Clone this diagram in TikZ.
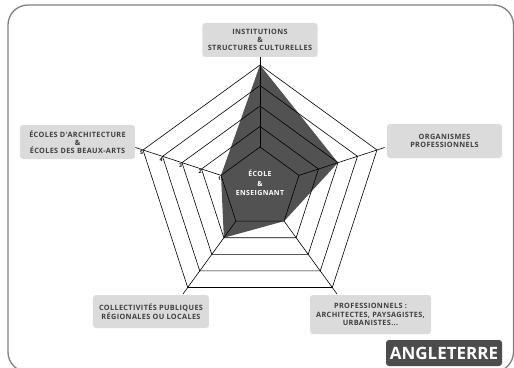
\documentclass[tikz,border=0pt]{standalone}
\usepackage{fontspec}
\setmainfont{Open Sans}
\newfontfamily\boxfont[LetterSpace=5]{Open Sans}
\usetikzlibrary{positioning, calc}

\begin{document}
\begin{tikzpicture}[x=1pt, y=1pt,
    labelbox/.style={rectangle, rounded corners=3pt, fill=black!14, text=black!75,
      font=\boxfont\bfseries\fontsize{7.3}{8.3}\selectfont, align=center,
      minimum width=115pt, minimum height=34pt, inner sep=1pt},
    gridline/.style={line width=0.6pt, black},
    levelnum/.style={font=\bfseries\fontsize{5.2}{5.5}\selectfont, inner sep=0.3pt}]
    \useasboundingbox (-260,-179) rectangle (254,188);
    \draw[black!50, line width=1.3pt, rounded corners=20pt] (-252,-184) rectangle (253.5,183);

    \foreach \a [count=\i] in {90,18,306,234,162} {
        \foreach \k in {1,...,5}
            \coordinate (p\i-\k) at (\a:{20.5*(\k+1)});
        \coordinate (e\i) at (\a:131);
    }

    \fill[black!68] (p1-5) -- (p2-3) -- (p3-1) -- (p4-2) -- (p5-1) -- cycle;
    \foreach \k in {1,...,5}
        \draw[gridline] (p1-\k) -- (p2-\k) -- (p3-\k) -- (p4-\k) -- (p5-\k) -- cycle;
    \foreach \i in {1,...,5}
        \draw[gridline] (p\i-1) -- (e\i);

    \foreach \k in {1,...,5}
        \node[levelnum, below=0.6pt of p5-\k, xshift=-1.5pt] (n\k) {\k};

    \node[font=\boxfont\bfseries\fontsize{7}{9.5}\selectfont, text=white, align=center] (ecole) at (0,5) {ÉCOLE\\\&\\ENSEIGNANT};

    \node[labelbox] (inst) at (0,148) {INSTITUTIONS\\\&\\STRUCTURES CULTURELLES};
    \node[labelbox] (org) at (184.5,47) {ORGANISMES\\PROFESSIONNELS};
    \node[labelbox, minimum width=121pt, minimum height=39pt] (pro) at (110.5,-126.5) {PROFESSIONNELS :\\ARCHITECTES, PAYSAGISTES,\\URBANISTES...};
    \node[labelbox, minimum width=116pt, minimum height=33pt] (coll) at (-109,-123.5) {COLLECTIVITÉS PUBLIQUES\\RÉGIONALES OU LOCALES};
    \node[labelbox] (ecoles) at (-182.5,46) {ÉCOLES D'ARCHITECTURE\\\&\\ÉCOLES DES BEAUX-ARTS};

    \node[rectangle, rounded corners=3pt, fill=black!70, text=white,
      font=\bfseries\fontsize{17}{17}\selectfont, minimum width=116pt, minimum height=26pt] (pays) at (184,-165) {ANGLETERRE};
\end{tikzpicture}
\end{document}
